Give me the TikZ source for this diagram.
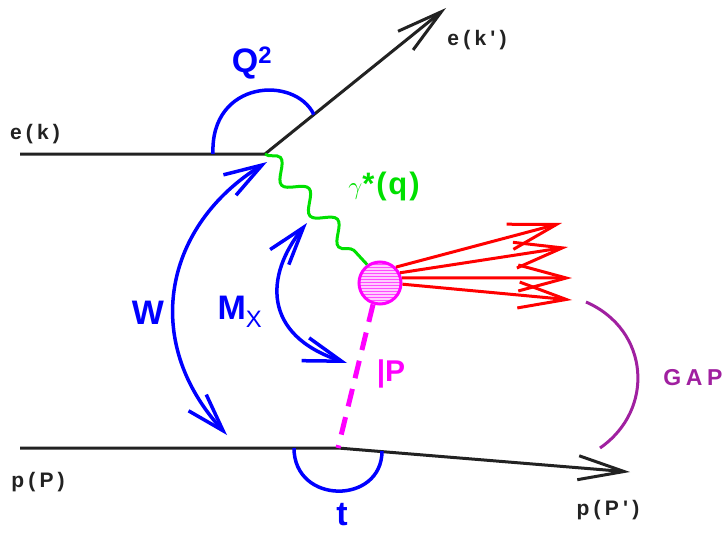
\documentclass[tikz,border=0pt]{standalone}
\usepackage{fontspec}
\setsansfont{Liberation Sans}
\newfontfamily\lblfont[LetterSpace=20]{Liberation Sans}
\newfontfamily\gammafont[LetterSpace=6]{Liberation Sans}
\usetikzlibrary{arrows.meta,calc,decorations.pathmorphing,patterns}
\definecolor{Ink}{HTML}{222222}
\definecolor{ArcBlue}{HTML}{0000FF}
\definecolor{PhotonGreen}{HTML}{00E000}
\definecolor{HadronRed}{HTML}{FF0000}
\definecolor{PomeronPink}{HTML}{FF00FF}
\definecolor{GapPurple}{HTML}{A020A0}
\tikzset{
  lepton/.style={draw=Ink,line width=3pt,-{Straight Barb[length=46pt,width=24pt]}},
  photon/.style={draw=PhotonGreen,line width=3pt,decorate,
    decoration={snake,amplitude=9pt,segment length=42pt}},
  pomeron/.style={draw=PomeronPink,line width=5pt,dash pattern=on 18pt off 11pt},
  ray/.style={draw=HadronRed,line width=3pt,-{Straight Barb[length=48pt,width=26pt]}},
  blobNode/.style={circle,draw=PomeronPink,line width=3pt,minimum size=42pt,inner sep=0pt,
    preaction={fill=PomeronPink!20},pattern=horizontal lines,pattern color=PomeronPink!70},
  measure/.style={draw=ArcBlue,line width=3.5pt},
  span/.style={measure,{Straight Barb[length=38pt,width=24pt]}-{Straight Barb[length=38pt,width=24pt]}},
  gapArc/.style={draw=GapPurple,line width=3pt},
  lbl/.style={font=\lblfont\bfseries\fontsize{21}{21}\selectfont,text=Ink,inner sep=0pt},
  bigLbl/.style={font=\sffamily\bfseries\fontsize{34}{34}\selectfont,text=ArcBlue,inner sep=0pt}
}
\begin{document}
\begin{tikzpicture}[x=1pt,y=-1pt]
  \useasboundingbox[fill=white] (0,0) rectangle (726,535);
  \coordinate (eIn) at (20,154);
  \coordinate (vtx) at (265,154);
  \coordinate (eOut) at (446,8);
  \coordinate (pIn) at (20,448);
  \coordinate (pVtx) at (338,448);
  \coordinate (pOut) at (630,472);
  \coordinate (j1) at (562,223);
  \coordinate (j2) at (568,247);
  \coordinate (j3) at (572,278);
  \coordinate (j4) at (572,300);
  \node[blobNode] (blob) at (380,283) {};
  \draw[lepton] (eIn) -- (vtx) -- (eOut);
  \draw[lepton] (pIn) -- (pVtx) -- (pOut);
  \draw[photon] (vtx) -- (blob.125);
  \draw[pomeron] (blob.-108) -- (pVtx);
  \foreach \a/\j in {45/j1,27/j2,13/j3,-3/j4}
    \draw[ray] (blob.\a) -- (\j);
  \draw[measure] (213,154) .. controls (210,80) and (295,75) .. ($(vtx)!0.27!(eOut)$);
  \draw[span] (267,162) .. controls (165,225) and (140,340) .. (227,435);
  \draw[span] (307,223) .. controls (265,275) and (262,335) .. (347,363);
  \draw[measure] (294,448) .. controls (294,505) and (382,505) .. (382,451);
  \draw[gapArc] (586,302) .. controls (650,330) and (655,410) .. (600,448);
  \node[lbl] (ekIn) at (35,134) {e(k)};
  \node[lbl] (ekOut) at (477,40) {e(k')};
  \node[lbl] (ppIn) at (38,482) {p(P)};
  \node[lbl] (ppOut) at (608,510) {p(P')};
  \node[bigLbl] (qsq) at (252,63) {Q\textsuperscript{2}};
  \node[bigLbl] (wLbl) at (148,313) {W};
  \node[bigLbl] (mxLbl) at (240,312) {M\textsubscript{\mdseries X}};
  \node[bigLbl] (tLbl) at (342,515) {t};
  \node[bigLbl,text=PhotonGreen,font=\gammafont\bfseries\fontsize{31}{31}\selectfont] (gLbl) at (384,186) {$\gamma$*(q)};
  \node[bigLbl,text=PomeronPink,font=\sffamily\bfseries\fontsize{30}{30}\selectfont] (pomLbl) at (391,374) {|P};
  \node[lbl,text=GapPurple,font=\lblfont\bfseries\fontsize{23}{23}\selectfont] (gapLbl) at (693,378) {GAP};
\end{tikzpicture}
\end{document}
